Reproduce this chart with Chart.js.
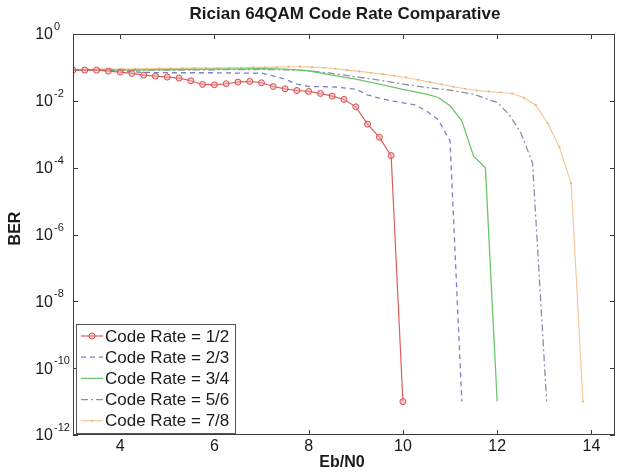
<!DOCTYPE html>
<html><head><meta charset="utf-8">
<script src="https://cdn.jsdelivr.net/npm/chart.js@4/dist/chart.umd.min.js"></script>
<style>html,body{margin:0;padding:0;background:#fff}</style>
</head><body>
<canvas id="c" width="623" height="475"></canvas>
<script>
const chartTitle = 'Rician 64QAM Code Rate Comparative';
const xTitle = 'Eb/N0';
const yTitle = 'BER';
const xTicks = [4, 6, 8, 10, 12, 14];
const yTickExps = [0, -2, -4, -6, -8, -10, -12];
const seriesLabels = ['Code Rate = 1/2', 'Code Rate = 2/3', 'Code Rate = 3/4', 'Code Rate = 5/6', 'Code Rate = 7/8'];

const ebn0_r12 = [3,3.25,3.5,3.75,4,4.25,4.5,4.75,5,5.25,5.5,5.75,6,6.25,6.5,6.75,7,7.25,7.5,7.75,8,8.25,8.5,8.75,9,9.25,9.5,9.75,10];
const ber_r12 = [0.0832,0.0832,0.0832,0.0776,0.0724,0.0661,0.0589,0.0550,0.0513,0.0479,0.0398,0.0309,0.0302,0.0324,0.0363,0.0380,0.0347,0.0269,0.0229,0.0204,0.0191,0.0166,0.0138,0.0110,0.00661,0.00200,8.1e-4,2.3e-4,1e-11];

const ebn0_r23 = [3,3.5,4,4.5,5,5.5,6,6.5,7,7.5,7.75,8,8.5,9,9.25,9.5,9.75,10,10.25,10.5,10.75,11,11.25];
const ber_r23 = [0.0832,0.0832,0.0794,0.0708,0.0692,0.0692,0.0692,0.0676,0.0676,0.0447,0.0316,0.0269,0.0263,0.0224,0.0151,0.0120,0.0100,0.0087,0.0076,0.0050,0.0027,6.3e-4,1e-11];

const ebn0_r34 = [3,4,5,6,7,7.5,8,8.5,9,9.5,10,10.5,10.75,11,11.25,11.5,11.75,12];
const ber_r34 = [0.0832,0.0832,0.0851,0.0891,0.0912,0.0891,0.0794,0.0589,0.0447,0.0316,0.0219,0.0158,0.0126,0.00708,0.00251,2.2e-4,1.0e-4,1e-11];

const ebn0_r56 = [3,4,5,6,7,7.5,8,8.5,9,9.5,10,10.5,11,11.5,12,12.25,12.5,12.75,13.05];
const ber_r56 = [0.0832,0.0832,0.0832,0.0851,0.0871,0.0851,0.0794,0.0661,0.0525,0.0417,0.0316,0.0251,0.0209,0.0158,0.00891,0.00398,0.00112,1.4e-4,1e-11];

const ebn0_r78 = [3.07,3.32,3.57,3.82,4.07,4.32,4.57,4.82,5.07,5.32,5.57,5.82,6.07,6.32,6.57,6.82,7.07,7.32,7.57,7.82,8.07,8.32,8.57,8.82,9.07,9.32,9.57,9.82,10.07,10.32,10.57,10.82,11.07,11.32,11.57,11.82,12.07,12.32,12.57,12.82,13.07,13.32,13.57,13.82];
const ber_r78 = [0.0851,0.0871,0.0871,0.0891,0.0891,0.0912,0.0912,0.0933,0.0933,0.0933,0.0955,0.0955,0.0955,0.0977,0.0977,0.100,0.100,0.102,0.105,0.105,0.102,0.0977,0.0912,0.0832,0.0759,0.0692,0.0631,0.0562,0.0501,0.0427,0.0363,0.0309,0.0263,0.0229,0.0204,0.0191,0.0178,0.0166,0.0123,0.00741,0.00214,4.1e-4,3.4e-5,1e-11];

function pts(xs, ys) { return xs.map((x, i) => ({x: x, y: ys[i]})); }

const FONT = '"Liberation Sans", Arial, sans-serif';

const datasets = [
  {label: seriesLabels[0], data: pts(ebn0_r12, ber_r12), borderColor: '#de5b5b', borderWidth: 1.2,
   pointRadius: 3, pointBorderWidth: 1, pointBorderColor: '#d65050', pointBackgroundColor: 'rgba(240,170,170,0.55)', pointStyle: 'circle'},
  {label: seriesLabels[1], data: pts(ebn0_r23, ber_r23), borderColor: '#7d7fc8', borderWidth: 1.3, borderDash: [5, 4], pointRadius: 0},
  {label: seriesLabels[2], data: pts(ebn0_r34, ber_r34), borderColor: '#6cc56c', borderWidth: 1.3, pointRadius: 0},
  {label: seriesLabels[3], data: pts(ebn0_r56, ber_r56), borderColor: '#8a8fa8', borderWidth: 1.3, borderDash: [7, 3, 2, 3], pointRadius: 0},
  {label: seriesLabels[4], data: pts(ebn0_r78, ber_r78), borderColor: '#f4c690', borderWidth: 1.1,
   pointRadius: 1.1, pointBorderWidth: 0, pointBackgroundColor: '#e9b478'}
];
datasets.forEach(d => { d.fill = false; d.tension = 0; d.showLine = true; });

const decor = {
  id: 'decor',
  afterDraw(chart) {
    const ctx = chart.ctx;
    const a = chart.chartArea;
    const xs = chart.scales.x, ys = chart.scales.y;
    ctx.save();
    ctx.strokeStyle = '#3c3c3c';
    ctx.lineWidth = 1;
    ctx.strokeRect(Math.round(a.left) + 0.5, Math.round(a.top) + 0.5, Math.round(a.right - a.left) - 1, Math.round(a.bottom - a.top) - 1);
    ctx.beginPath();
    xTicks.forEach(v => {
      const px = Math.round(xs.getPixelForValue(v)) + 0.5;
      ctx.moveTo(px, a.bottom); ctx.lineTo(px, a.bottom - 5);
      ctx.moveTo(px, a.top); ctx.lineTo(px, a.top + 5);
    });
    yTickExps.forEach(e => {
      const py = Math.round(ys.getPixelForValue(Math.pow(10, e))) + 0.5;
      ctx.moveTo(a.left, py); ctx.lineTo(a.left + 5, py);
      ctx.moveTo(a.right, py); ctx.lineTo(a.right - 5, py);
    });
    ctx.stroke();
    ctx.fillStyle = '#1a1a1a';
    ctx.font = '16px ' + FONT;
    ctx.textAlign = 'center';
    ctx.textBaseline = 'middle';
    xTicks.forEach(v => {
      ctx.fillText(String(v), xs.getPixelForValue(v), a.bottom + 12);
    });
    yTickExps.forEach(e => {
      const py = ys.getPixelForValue(Math.pow(10, e));
      ctx.font = '16px ' + FONT;
      ctx.textAlign = 'right';
      ctx.textBaseline = 'middle';
      ctx.fillText('10', 53, py + 1);
      ctx.font = '11px ' + FONT;
      ctx.textAlign = 'left';
      ctx.fillText(String(e), 54, py - 7);
    });
    ctx.font = 'bold 17px ' + FONT;
    ctx.textAlign = 'center';
    ctx.textBaseline = 'middle';
    ctx.fillText(chartTitle, (a.left + a.right) / 2 + 1, 14);
    ctx.font = 'bold 16px ' + FONT;
    ctx.fillText(xTitle, (a.left + a.right) / 2 - 2, 463);
    ctx.save();
    ctx.translate(16, (a.top + a.bottom) / 2 - 6);
    ctx.rotate(-Math.PI / 2);
    ctx.fillText(yTitle, 0, 0);
    ctx.restore();
    const lx = 76, ly = 324, lw = 159, lh = 109;
    ctx.fillStyle = '#fff';
    ctx.fillRect(lx, ly, lw, lh);
    ctx.strokeStyle = '#555';
    ctx.strokeRect(lx + 0.5, ly + 0.5, lw, lh);
    chart.data.datasets.forEach((d, i) => {
      const cy = 336 + i * 21.2;
      ctx.save();
      ctx.strokeStyle = d.borderColor;
      ctx.lineWidth = d.borderWidth;
      ctx.setLineDash(d.borderDash || []);
      ctx.beginPath();
      ctx.moveTo(81, cy); ctx.lineTo(103, cy);
      ctx.stroke();
      ctx.setLineDash([]);
      if (d.pointRadius > 0) {
        ctx.beginPath();
        ctx.arc(92, cy, d.pointRadius, 0, Math.PI * 2);
        ctx.fillStyle = d.pointBackgroundColor;
        ctx.fill();
        if (d.pointBorderWidth) { ctx.strokeStyle = d.pointBorderColor; ctx.lineWidth = d.pointBorderWidth; ctx.stroke(); }
      }
      ctx.restore();
      ctx.fillStyle = '#1a1a1a';
      ctx.font = '17px ' + FONT;
      ctx.textAlign = 'left';
      ctx.textBaseline = 'middle';
      ctx.fillText(d.label, 105, cy + 1);
    });
    ctx.restore();
  }
};

new Chart(document.getElementById('c'), {
  type: 'line',
  data: {datasets: datasets},
  options: {
    responsive: false,
    animation: false,
    devicePixelRatio: 1,
    layout: {padding: {left: 73, right: 8, top: 34, bottom: 40}},
    plugins: {legend: {display: false}, title: {display: false}, tooltip: {enabled: false}},
    scales: {
      x: {type: 'linear', min: 3, max: 14.5,
          ticks: {display: false}, grid: {display: false, drawTicks: false}, border: {display: false}},
      y: {type: 'logarithmic', min: 1e-12, max: 1,
          ticks: {display: false}, grid: {display: false, drawTicks: false}, border: {display: false}}
    }
  },
  plugins: [decor]
});
</script>
</body></html>
